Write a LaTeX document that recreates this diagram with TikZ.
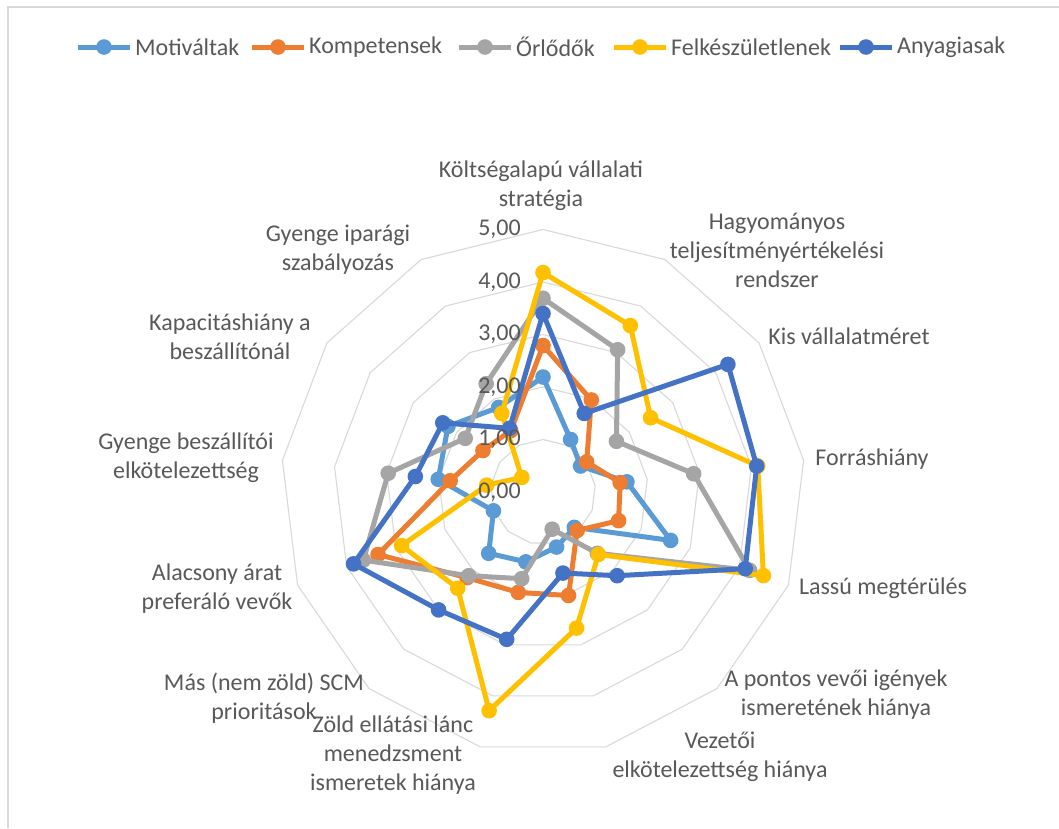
\documentclass[tikz,border=0pt]{standalone}
\usepackage{fontspec}
\setmainfont{Carlito}
\definecolor{cmot}{HTML}{5B9BD5}
\definecolor{ckom}{HTML}{ED7D31}
\definecolor{corl}{HTML}{A5A5A5}
\definecolor{cfel}{HTML}{FFC000}
\definecolor{cany}{HTML}{4472C4}
\definecolor{gridgray}{HTML}{D9D9D9}
\definecolor{txtgray}{HTML}{595959}
\def\cx{543}
\def\cy{492}
\def\unitr{52.5}
% place the 13 points of one series on the radar axes
\newcommand\radarseries[2]{%
  \foreach \v [count=\k from 0] in {#2} {
    \coordinate (#1\k) at ({\cx+\v*\unitr*sin(\k*360/13)}, {\cy-\v*\unitr*cos(\k*360/13)});
  }}
% polygon and markers of one series
\newcommand\drawseries[2]{%
  \draw[serline,#2] (#10) \foreach \k in {1,...,12} {-- (#1\k)} -- cycle;
  \foreach \k in {0,...,12} {\fill[#2] (#1\k) circle (7.8);}
}
\begin{document}
\begin{tikzpicture}[x=1pt,y=-1pt,
  serline/.style={line width=5pt,line join=round,line cap=round},
  gridline/.style={gridgray,line width=1.1pt},
  lbl/.style={text=txtgray,font=\fontsize{24}{29}\selectfont,align=center,inner sep=0pt},
  tick/.style={text=txtgray,font=\fontsize{24}{29}\selectfont,anchor=east,inner sep=0pt}]
\useasboundingbox (0,0) rectangle (1059,828);
\fill[white] (0,0) rectangle (1059,828);
% chart frame (top and left edges)
\draw[gridgray,line width=2pt] (8,828) -- (8,7) -- (1059,7);

% grid rings
\foreach \r in {1,...,5} {
  \draw[gridline] ({\cx},{\cy-\r*\unitr})
    \foreach \k in {1,...,12} {-- ({\cx+\r*\unitr*sin(\k*360/13)},{\cy-\r*\unitr*cos(\k*360/13)})} -- cycle;
}

% category labels
\node[lbl] (lab0)  at (541,186) {Költségalapú vállalati\\stratégia};
\node[lbl] (lab1)  at (777,250) {Hagyományos\\teljesítményértékelési\\rendszer};
\node[lbl] (lab2)  at (849,336) {Kis vállalatméret};
\node[lbl] (lab3)  at (872,459) {Forráshiány};
\node[lbl] (lab4)  at (883,588) {Lassú megtérülés};
\node[lbl] (lab5)  at (836,695) {A pontos vevői igények\\ismeretének hiánya};
\node[lbl] (lab6)  at (720,757) {Vezetői\\elkötelezettség hiánya};
\node[lbl] (lab7)  at (393,755) {Zöld ellátási lánc\\menedzsment\\ismeretek hiánya};
\node[lbl] (lab8)  at (264,698) {Más (nem zöld) SCM\\prioritások};
\node[lbl] (lab9)  at (217,589) {Alacsony árat\\preferáló vevők};
\node[lbl] (lab10) at (186,458) {Gyenge beszállítói\\elkötelezettség};
\node[lbl] (lab11) at (230,337) {Kapacitáshiány a\\beszállítónál};
\node[lbl] (lab12) at (338,250) {Gyenge iparági\\szabályozás};

% data
\radarseries{mot}{2.19,1.13,0.87,1.61,2.60,0.90,1.08,1.37,1.56,1.01,2.01,2.20,1.82}
\radarseries{kom}{2.79,1.98,1.01,1.48,1.54,0.98,2.03,1.97,2.18,3.36,1.78,1.39,1.32}
\radarseries{orl}{3.69,3.06,1.70,2.89,4.21,1.56,0.73,1.70,2.13,3.66,2.97,1.80,2.33}
\radarseries{fel}{4.18,3.58,2.49,4.12,4.49,1.59,2.67,4.29,2.45,2.88,1.08,0.49,1.69}
\radarseries{any}{3.40,1.69,4.28,4.10,4.12,2.13,1.59,2.89,3.00,3.86,2.45,2.32,1.37}
\drawseries{mot}{cmot}
\drawseries{kom}{ckom}
\drawseries{orl}{corl}
\drawseries{fel}{cfel}
\drawseries{any}{cany}

% scale labels, set over the series
\foreach \r in {0,...,5} {
  \node[tick] (tick\r) at (521,{\cy-\r*\unitr}) {\r,00};
}

% legend
\foreach \nm/\col/\xa/\txt in {lmot/cmot/78/Motiváltak, lkom/ckom/252/Kompetensek,
    lorl/corl/459/Őrlődők, lfel/cfel/614/Felkészületlenek, lany/cany/840/Anyagiasak} {
  \coordinate (\nm a) at (\xa,47);
  \coordinate (\nm b) at (\xa+52,47);
  \coordinate (\nm m) at (\xa+26,47);
  \draw[serline,\col,line cap=butt] (\nm a) -- (\nm b);
  \fill[\col] (\nm m) circle (7.8);
  \node[lbl,anchor=west] (\nm t) at ([xshift=5pt]\nm b) {\txt};
}
\end{tikzpicture}
\end{document}
